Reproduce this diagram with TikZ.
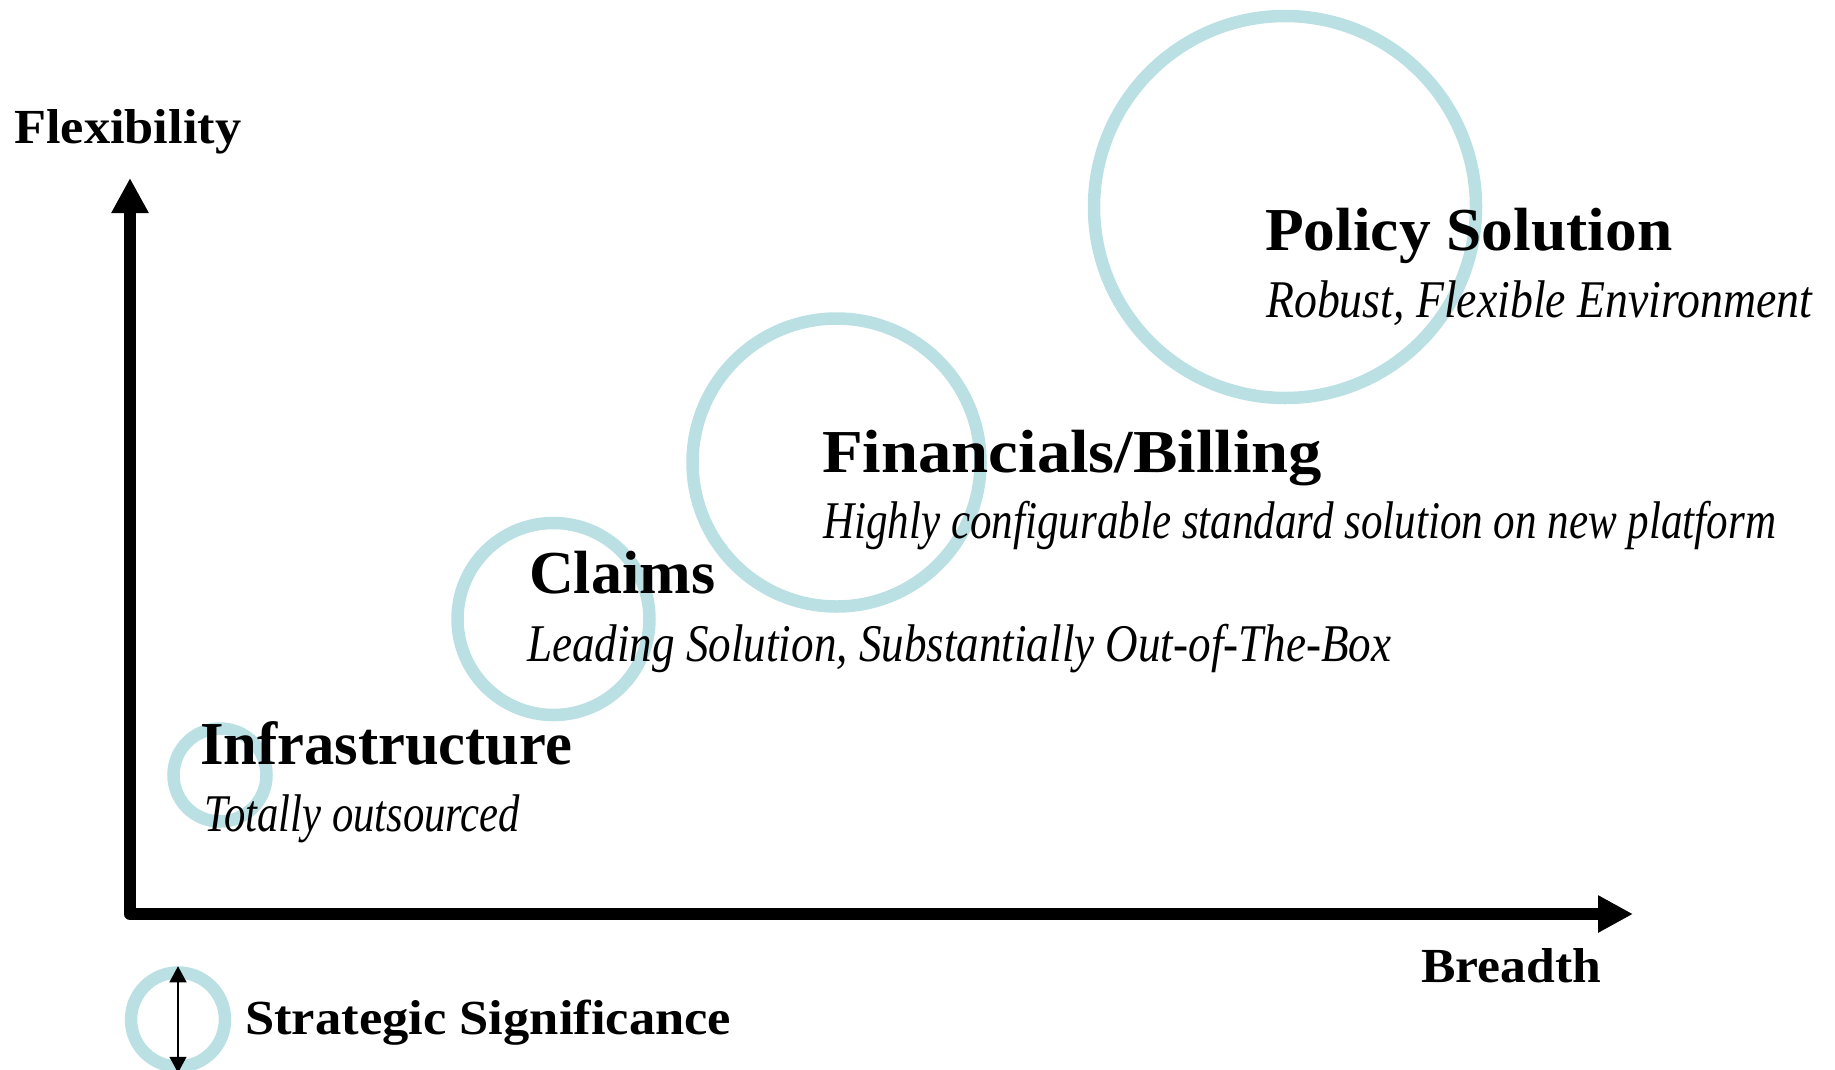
\documentclass[tikz,border=0pt]{standalone}
\usepackage{fontspec}
\setmainfont{Liberation Serif}
\usepackage{graphicx}
\usepackage{xcolor}
\usetikzlibrary{arrows.meta}
\definecolor{ringblue}{RGB}{187,224,228}
\newcommand{\fitw}[2]{\resizebox{#1pt}{\height}{#2}}

\begin{document}
\begin{tikzpicture}[x=1pt,y=-1pt,
  ring/.style={circle,draw=ringblue,line width=12.5pt,inner sep=0pt},
  head/.style={font=\fontsize{61}{70}\selectfont\bfseries,anchor=base west,inner sep=0pt},
  sub/.style={font=\fontsize{53}{60}\selectfont\itshape,anchor=base west,inner sep=0pt},
  axlabel/.style={font=\fontsize{49}{56}\selectfont\bfseries,anchor=base west,inner sep=0pt},
  bigtip/.style={line width=12pt,line join=round,{Triangle[length=35pt,width=35pt]}-{Triangle[length=35pt,width=35pt]}}]
\useasboundingbox (0,0) rectangle (1835,1069);
\foreach \n/\x/\y/\r in {infra/220/775/46.5,claims/553.5/619/96,fin/836.5/462.5/144,policy/1285/207/191,legend/178/1019.5/47}
  \node[ring,minimum size=2*\r] (\n) at (\x,\y) {};
\coordinate (ytip) at (130,178);
\coordinate (orig) at (130,914);
\coordinate (xtip) at (1633,914);
\draw[bigtip] (ytip) -- (orig) -- (xtip);
\draw[line width=1.3pt,{Triangle[length=16pt,width=17pt]}-{Triangle[length=16pt,width=17pt]}] (legend.north) -- (legend.south);
\node[axlabel] (flex) at (14,143) {\fitw{227}{Flexibility}};
\node[axlabel] (breadth) at (1421,982) {\fitw{180}{Breadth}};
\node[axlabel] (signif) at (245,1034) {\fitw{486}{Strategic Significance}};
\node[head] (infrahead) at (200,764) {\fitw{372}{Infrastructure}};
\node[sub] (infrasub) at (204,831) {\fitw{316}{Totally outsourced}};
\node[head] (claimshead) at (529,593) {\fitw{186}{Claims}};
\node[sub] (claimssub) at (527,661) {\fitw{864}{Leading Solution, Substantially Out-of-The-Box}};
\node[head] (finhead) at (822,472) {\fitw{500}{Financials/Billing}};
\node[sub] (finsub) at (823,538) {\fitw{953}{Highly configurable standard solution on new platform}};
\node[head] (policyhead) at (1265,250) {\fitw{407}{Policy Solution}};
\node[sub] (policysub) at (1266,317) {\fitw{546}{Robust, Flexible Environment}};
\end{tikzpicture}
\end{document}
